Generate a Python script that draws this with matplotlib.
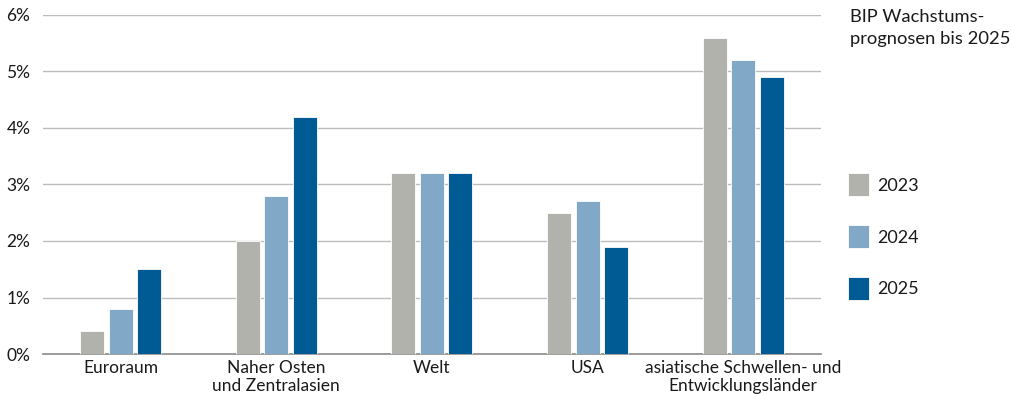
import numpy as np
import matplotlib.pyplot as plt
from matplotlib.patches import Patch

plt.rcParams['font.family'] = ['Lato', 'DejaVu Sans']

regions = ['Euroraum', 'Naher Osten\nund Zentralasien', 'Welt', 'USA',
           'asiatische Schwellen- und\nEntwicklungsländer']
years = ['2023', '2024', '2025']
g2023 = [0.4, 2.0, 3.2, 2.5, 5.6]
g2024 = [0.8, 2.8, 3.2, 2.7, 5.2]
g2025 = [1.5, 4.2, 3.2, 1.9, 4.9]
colors = ['#b2b2ad', '#82a8c8', '#005b95']

fig = plt.figure(figsize=(10.11, 3.94), dpi=100)
ax = fig.add_axes([0.0425, 0.1015, 0.7695, 0.8605])

x = np.arange(len(regions))
w = 0.154
step = 0.183
for i, vals in enumerate([g2023, g2024, g2025]):
    ax.bar(x + (i - 1) * step, vals, width=w, color=colors[i],
           edgecolor='white', linewidth=0.6, zorder=3, label=years[i])

ax.set_xlim(-0.5, 4.5)
ax.set_ylim(0, 6)
ax.set_yticks(range(7))
ax.set_yticklabels([f'{v}%' for v in range(7)])
ax.set_xticks(x)
ax.set_xticklabels(regions, linespacing=1.15)
ax.tick_params(axis='both', length=0, labelsize=12.5, colors='#1a1a1a')
ax.tick_params(axis='y', pad=9)
ax.tick_params(axis='x', pad=4)
ax.grid(axis='y', color='#bdbdbd', linewidth=1, zorder=0)
for s in ['top', 'right', 'left']:
    ax.spines[s].set_visible(False)
ax.spines['bottom'].set_color('#8c8c8c')
ax.spines['bottom'].set_linewidth(1.2)

fig.text(0.841, 0.978, 'BIP Wachstums-\nprognosen bis 2025', fontsize=13.2,
         va='top', ha='left', color='#1a1a1a', linespacing=1.45)

handles = [Patch(facecolor=c, edgecolor='white', linewidth=0.6) for c in colors]
fig.legend(handles, years, loc='upper left', bbox_to_anchor=(0.832, 0.578),
           frameon=False, fontsize=13, handlelength=1.17, handleheight=1.55,
           labelspacing=1.62, handletextpad=0.45, labelcolor='#1a1a1a',
           borderaxespad=0)

fig.savefig('out.png', dpi=100)
